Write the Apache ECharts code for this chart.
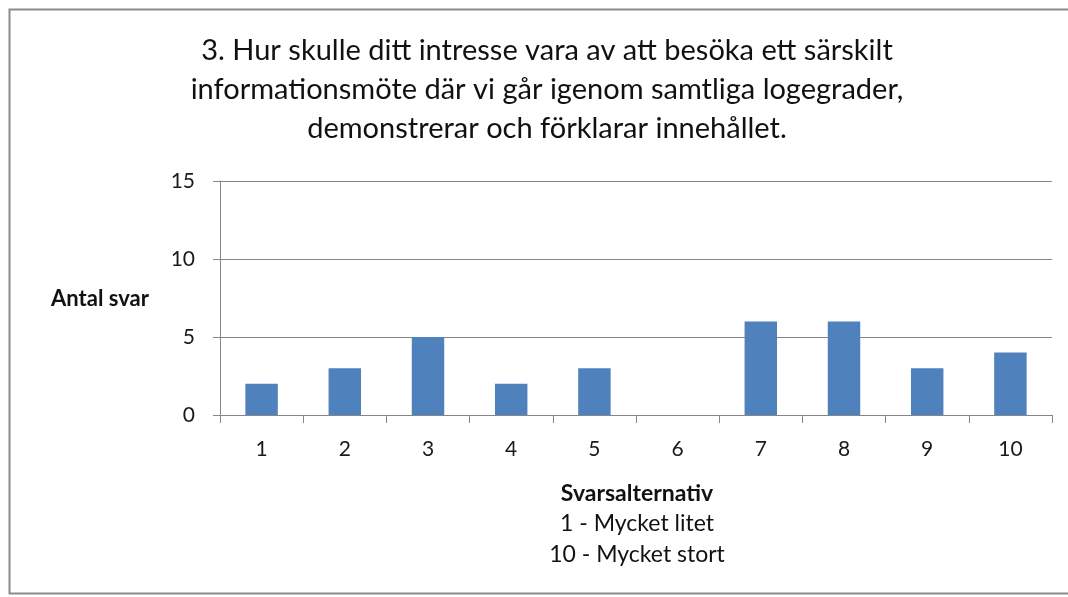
<!DOCTYPE html>
<html>
<head>
<meta charset="utf-8">
<script src="https://cdn.jsdelivr.net/npm/echarts@6/dist/echarts.min.js"></script>
<style>
  html, body { margin: 0; padding: 0; background: #fff; }
  #chart { width: 1068px; height: 597px; }
</style>
</head>
<body>
<div id="chart"></div>
<script>
const categories = ["1", "2", "3", "4", "5", "6", "7", "8", "9", "10"]
const answers = [2, 3, 5, 2, 3, 0, 6, 6, 3, 4]
const titleLines = [
  "3. Hur skulle ditt intresse vara av att besöka ett särskilt",
  "informationsmöte där vi går igenom samtliga logegrader,",
  "demonstrerar och förklarar innehållet."
]
const xTitle = "Svarsalternativ"
const xNotes = ["1 - Mycket litet", "10 - Mycket stort"]
const yTitle = "Antal svar"

const font = "Lato, 'Open Sans', sans-serif"
const chart = echarts.init(document.getElementById("chart"))
chart.setOption({
  animation: false,
  textStyle: { fontFamily: font },
  grid: { left: 220, right: 16, top: 181, bottom: 182, containLabel: false },
  xAxis: {
    type: "category",
    data: categories,
    axisLine: { lineStyle: { color: "#868686", width: 1 } },
    axisTick: { show: true, length: 8, lineStyle: { color: "#868686" } },
    axisLabel: { color: "#1a1a1a", fontSize: 21, margin: 24, fontFamily: font }
  },
  yAxis: {
    type: "value",
    min: 0,
    max: 15,
    interval: 5,
    axisLine: { show: true, lineStyle: { color: "#868686", width: 1 } },
    axisTick: { show: true, length: 7, lineStyle: { color: "#868686" } },
    axisLabel: { color: "#1a1a1a", fontSize: 21, margin: 25, fontFamily: font },
    splitLine: { lineStyle: { color: "#868686", width: 1 } }
  },
  series: [
    {
      type: "bar",
      data: answers,
      barWidth: "39%",
      itemStyle: { color: "#4F81BD" }
    }
  ],
  graphic: [
    {
      type: "rect",
      shape: { x: 9.5, y: 9.5, width: 1080, height: 584 },
      style: { fill: null, stroke: "#8c8c8c", lineWidth: 2 },
      silent: true
    },
    {
      type: "text",
      x: 547,
      y: 31,
      style: {
        text: titleLines.join("\n"),
        textAlign: "center",
        textVerticalAlign: "top",
        font: "29px " + font,
        lineHeight: 39,
        fill: "#111"
      }
    },
    {
      type: "text",
      x: 100,
      y: 299,
      style: {
        text: yTitle,
        textAlign: "center",
        textVerticalAlign: "middle",
        font: "bold 22px " + font,
        fill: "#111"
      }
    },
    {
      type: "text",
      x: 637,
      y: 478,
      style: {
        text: "{b|" + xTitle + "}\n" + xNotes.join("\n"),
        textAlign: "center",
        textVerticalAlign: "top",
        font: "23px " + font,
        lineHeight: 30.5,
        fill: "#111",
        rich: { b: { fontWeight: "bold", fontSize: 23, fontFamily: font, lineHeight: 30.5 } }
      }
    }
  ]
})
</script>
</body>
</html>
